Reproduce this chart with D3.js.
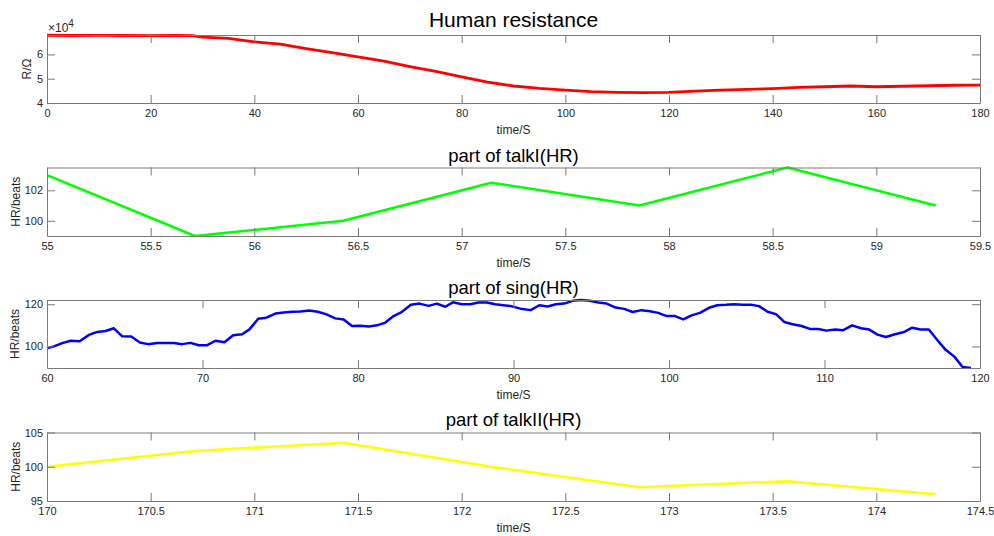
<!DOCTYPE html>
<html>
<head>
<meta charset="utf-8">
<script src="https://cdn.jsdelivr.net/npm/d3@7"></script>
<style>
  body { margin: 0; background: #fff; }
  text { font-family: "Liberation Sans", Arial, sans-serif; fill: #262626; }
  .domain, .tick line { stroke: #7a7a7a; }
</style>
</head>
<body>
<div id="chart"></div>
<script>
'use strict';

// Human resistance (ohm) over time (s)
const resTime = [0, 5, 10, 15, 20, 25, 28, 30, 35, 40, 45, 50, 55, 60, 65, 70, 75, 80, 85, 90,
  95, 100, 105, 110, 115, 120, 125, 130, 135, 140, 145, 150, 155, 160, 165, 170, 175, 180];
const resValue = [67900, 67800, 67850, 67800, 67750, 67800, 67750, 67100, 66600, 65200, 64200,
  62400, 60700, 59000, 57200, 55000, 53000, 50800, 48600, 47000, 46000, 45300, 44700, 44400,
  44300, 44400, 44900, 45300, 45600, 45900, 46400, 46700, 47000, 46700, 46900, 47100, 47300, 47400];

// part of talkI (HR)
const talk1Time = [55, 55.714, 56.429, 57.143, 57.857, 58.571, 59.286];
const talk1HR = [103, 99, 100, 102.5, 101, 103.5, 101];

// part of sing (HR)
const singTime = [60, 60.45, 60.98, 61.52, 62.1, 62.7, 63.23, 63.77, 64.3, 64.84, 65.42, 65.97,
  66.5, 67.09, 67.62, 68.16, 68.69, 69.23, 69.76, 70.3, 70.84, 71.41, 71.97, 72.55, 73.02, 73.58,
  74.11, 74.69, 75.22, 75.76, 76.3, 76.87, 77.41, 77.94, 78.54, 79.08, 79.61, 80.15, 80.69, 81.22,
  81.76, 82.29, 82.83, 83.4, 83.96, 84.54, 85.07, 85.61, 86.1, 86.68, 87.21, 87.75, 88.29, 88.82,
  89.36, 89.9, 90.45, 91.1, 91.66, 92.19, 92.73, 93.26, 93.8, 94.34, 94.91, 95.45, 95.99, 96.57,
  97.12, 97.66, 98.24, 98.77, 99.31, 99.85, 100.38, 100.92, 101.45, 101.99, 102.57, 103.1, 103.66,
  104.2, 104.73, 105.27, 105.8, 106.34, 106.88, 107.41, 107.95, 108.53, 109.06, 109.6, 110.13,
  110.67, 111.21, 111.78, 112.34, 112.88, 113.41, 113.95, 114.53, 115.07, 115.64, 116.18, 116.71,
  117.25, 117.79, 118.34, 118.88, 119.42];
const singHR = [99.2, 100.0, 101.6, 102.7, 102.5, 105.5, 106.9, 107.3, 108.6, 104.8, 104.7, 101.9,
  101.1, 101.6, 101.6, 101.6, 101.1, 101.7, 100.6, 100.6, 102.7, 102.0, 105.3, 105.8, 108.1, 113.1,
  113.6, 115.6, 116.1, 116.4, 116.6, 117.0, 116.4, 115.3, 113.3, 112.8, 109.7, 109.8, 109.5, 110.0,
  111.3, 114.4, 116.4, 119.7, 120.3, 119.2, 120.3, 118.8, 120.9, 120.0, 120.0, 120.8, 120.8, 120.0,
  119.5, 119.0, 117.9, 117.2, 119.5, 118.9, 120.0, 120.3, 121.6, 122.0, 121.6, 120.8, 120.3, 118.4,
  117.8, 116.3, 117.2, 116.7, 115.9, 114.4, 114.4, 112.8, 114.7, 115.9, 118.3, 119.5, 119.7,
  120.0, 119.8, 119.7, 119.1, 116.4, 115.3, 111.6, 110.5, 109.7, 108.3, 108.3, 107.5,
  108.0, 107.7, 110.0, 108.6, 108.0, 105.6, 104.5, 105.8, 106.7, 108.9, 108.0, 108.0,
  103.1, 98.4, 95.3, 90.3, 89.8];

// part of talkII (HR)
const talk2Time = [170, 170.714, 171.429, 172.143, 172.857, 173.571, 174.286];
const talk2HR = [100, 102.3, 103.5, 100.0, 97.0, 97.9, 96.0];

// ticks
const resXTicks = [0, 20, 40, 60, 80, 100, 120, 140, 160, 180];
const resYTicks = [40000, 50000, 60000];
const talk1XTicks = [55, 55.5, 56, 56.5, 57, 57.5, 58, 58.5, 59, 59.5];
const talk1YTicks = [100, 102];
const singXTicks = [60, 70, 80, 90, 100, 110, 120];
const singYTicks = [100, 120];
const talk2XTicks = [170, 170.5, 171, 171.5, 172, 172.5, 173, 173.5, 174, 174.5];
const talk2YTicks = [95, 100, 105];

const width = 994;
const height = 536;
const left = 47;
const right = 980;
const tickLen = 8;

const panels = [
  { title: 'Human resistance', titleSize: 21, titleY: 27, top: 35, bottom: 103,
    xs: resTime, ys: resValue, xDomain: [0, 180], yDomain: [40000, 68000],
    xTicks: resXTicks, yTicks: resYTicks, yFormat: d => d / 10000,
    color: '#ff0000', lw: 2.8, ylabel: 'R/\u03A9', ylabelX: 27, exponent: true },
  { title: 'part of talkI(HR)', titleSize: 18.5, titleY: 162, top: 167.5, bottom: 236,
    xs: talk1Time, ys: talk1HR, xDomain: [55, 59.5], yDomain: [99, 103.5],
    xTicks: talk1XTicks, yTicks: talk1YTicks, color: '#00ff00', lw: 2.5,
    ylabel: 'HR/beats', ylabelX: 16 },
  { title: 'part of sing(HR)', titleSize: 18.5, titleY: 294, top: 300, bottom: 368,
    xs: singTime, ys: singHR, xDomain: [60, 120], yDomain: d3.extent(singHR),
    xTicks: singXTicks, yTicks: singYTicks, color: '#0000ff', lw: 2.5,
    ylabel: 'HR/beats', ylabelX: 15 },
  { title: 'part of talkII(HR)', titleSize: 18.5, titleY: 426, top: 432.5, bottom: 501,
    xs: talk2Time, ys: talk2HR, xDomain: [170, 174.5], yDomain: [95, 105],
    xTicks: talk2XTicks, yTicks: talk2YTicks, color: '#ffff00', lw: 2.5,
    ylabel: 'HR/beats', ylabelX: 16 }
];

const svg = d3.select('#chart')
  .append('svg')
  .attr('width', width)
  .attr('height', height);

svg.append('rect').attr('width', width).attr('height', height).attr('fill', '#fff');

panels.forEach(drawPanel);

function drawPanel(p) {
  const scaleX = d3.scaleLinear().domain(p.xDomain).range([left, right]);
  const scaleY = d3.scaleLinear().domain(p.yDomain).range([p.bottom, p.top]);
  const fmt = p.yFormat || (d => d);

  // data line
  const pts = p.xs.map((x, i) => [x, p.ys[i]]);
  svg.append('path')
    .datum(pts)
    .attr('fill', 'none')
    .attr('stroke', p.color)
    .attr('stroke-width', p.lw)
    .attr('stroke-linejoin', 'round')
    .attr('d', d3.line().x(d => scaleX(d[0])).y(d => scaleY(d[1])));

  // axes (box with inward ticks)
  svg.append('g')
    .attr('transform', `translate(0, ${p.bottom})`)
    .call(d3.axisBottom(scaleX).tickValues(p.xTicks).tickFormat(d => d)
      .tickSizeInner(-tickLen).tickSizeOuter(0).tickPadding(6))
    .call(styleAxis);

  svg.append('g')
    .attr('transform', `translate(0, ${p.top})`)
    .call(d3.axisTop(scaleX).tickValues(p.xTicks).tickFormat('')
      .tickSizeInner(-tickLen).tickSizeOuter(0))
    .call(styleAxis);

  svg.append('g')
    .attr('transform', `translate(${left}, 0)`)
    .call(d3.axisLeft(scaleY).tickValues(p.yTicks).tickFormat(fmt)
      .tickSizeInner(-tickLen).tickSizeOuter(0).tickPadding(4))
    .call(styleAxis);

  svg.append('g')
    .attr('transform', `translate(${right}, 0)`)
    .call(d3.axisRight(scaleY).tickValues(p.yTicks).tickFormat('')
      .tickSizeInner(-tickLen).tickSizeOuter(0))
    .call(styleAxis);

  // title
  svg.append('text')
    .attr('x', (left + right) / 2)
    .attr('y', p.titleY)
    .attr('text-anchor', 'middle')
    .attr('font-size', p.titleSize)
    .style('fill', '#000')
    .text(p.title);

  // x label
  svg.append('text')
    .attr('x', (left + right) / 2)
    .attr('y', p.bottom + 31)
    .attr('text-anchor', 'middle')
    .attr('font-size', 12)
    .text('time/S');

  // y label
  svg.append('text')
    .attr('transform', `translate(${p.ylabelX}, ${(p.top + p.bottom) / 2}) rotate(-90)`)
    .attr('text-anchor', 'middle')
    .attr('dominant-baseline', 'central')
    .attr('font-size', 12)
    .text(p.ylabel);

  if (p.exponent) {
    const ex = svg.append('text')
      .attr('x', left + 1)
      .attr('y', p.top - 3)
      .attr('font-size', 12);
    ex.append('tspan').text('\u00D710');
    ex.append('tspan').attr('dy', -5).attr('font-size', 10).text('4');
  }
}

function styleAxis(g) {
  g.selectAll('text')
    .attr('font-size', 11)
    .attr('font-family', '"Liberation Sans", Arial, sans-serif')
    .style('fill', '#262626');
  g.selectAll('.domain').attr('stroke', '#7a7a7a');
  g.selectAll('.tick line').attr('stroke', '#7a7a7a');
}
</script>
</body>
</html>
